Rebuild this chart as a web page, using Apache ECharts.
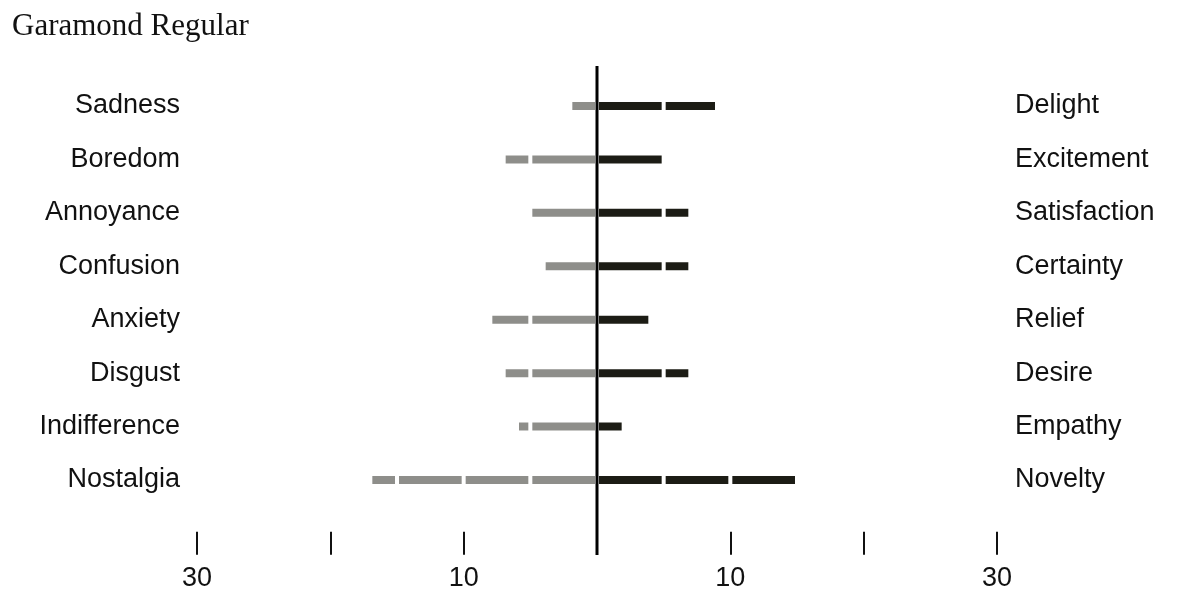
<!DOCTYPE html>
<html>
<head>
<meta charset="utf-8">
<script src="https://cdn.jsdelivr.net/npm/echarts@6/dist/echarts.min.js"></script>
<style>html,body{margin:0;padding:0;background:#fff;}#c{width:1200px;height:601px;}</style>
</head>
<body>
<div id="c"></div>
<script>
var leftCategories = ['Sadness','Boredom','Annoyance','Confusion','Anxiety','Disgust','Indifference','Nostalgia'];
var rightCategories = ['Delight','Excitement','Satisfaction','Certainty','Relief','Desire','Empathy','Novelty'];
var leftValues = [2, 7, 5, 4, 8, 7, 6, 17];
var rightValues = [9, 5, 7, 7, 4, 7, 2, 15];
var xTickValues = [-30, -20, -10, 0, 10, 20, 30];
var xTickLabels = ['30', '', '10', '', '10', '', '30'];
var segmentSize = 5;

var chart = echarts.init(document.getElementById('c'));
var GRAY = '#8e8e8a', DARK = '#1c1c15';
var FONT = '"Liberation Sans", Arial, Helvetica, sans-serif';

function chunks(vals, k, sign) {
  return vals.map(function (v) {
    return sign * Math.min(segmentSize, Math.max(0, v - segmentSize * k));
  });
}
var maxVal = Math.max.apply(null, leftValues.concat(rightValues));
var nSeg = Math.ceil(maxVal / segmentSize);
var series = [];
for (var k = 0; k < nSeg; k++) {
  series.push({
    type: 'bar', stack: 'all', barWidth: 12, silent: true,
    itemStyle: { color: DARK, borderColor: '#fff', borderWidth: 2 },
    data: chunks(rightValues, k, 1)
  });
  series.push({
    type: 'bar', stack: 'all', barWidth: 12, silent: true,
    itemStyle: { color: GRAY, borderColor: '#fff', borderWidth: 2 },
    data: chunks(leftValues, k, -1)
  });
}

chart.setOption({
  animation: false,
  title: {
    text: 'Garamond Regular', left: 7, top: 6,
    textStyle: { fontFamily: '"Liberation Serif", "Times New Roman", serif', fontWeight: 'normal', fontSize: 31, color: '#111' }
  },
  grid: { left: 197, right: 203, top: 79.3, height: 427.4 },
  xAxis: {
    type: 'value', min: -30, max: 30, interval: 10,
    offset: 25,
    axisLine: { show: false },
    axisTick: { show: true, length: 23, lineStyle: { color: '#111', width: 2 } },
    splitLine: { show: false },
    axisLabel: {
      margin: 33, fontSize: 27, color: '#111', fontFamily: FONT,
      formatter: function (v) { var i = xTickValues.indexOf(v); return i >= 0 ? xTickLabels[i] : ''; }
    }
  },
  yAxis: [{
    type: 'category', data: leftCategories, inverse: true, position: 'left',
    axisLine: { show: false }, axisTick: { show: false },
    axisLabel: { margin: 17, fontSize: 27, color: '#111', fontFamily: FONT, padding: [0, 0, 5, 0] }
  }, {
    type: 'category', data: rightCategories, inverse: true, position: 'right',
    axisLine: { show: false }, axisTick: { show: false },
    axisLabel: { margin: 18, fontSize: 27, color: '#111', fontFamily: FONT, padding: [0, 0, 5, 0] }
  }],
  series: series
});

var cx = chart.convertToPixel({ xAxisIndex: 0 }, 0);
chart.setOption({
  graphic: [{
    type: 'line', z: 100,
    shape: { x1: cx, y1: 66, x2: cx, y2: 555 },
    style: { stroke: '#000', lineWidth: 3 }
  }]
});
</script>
</body>
</html>
